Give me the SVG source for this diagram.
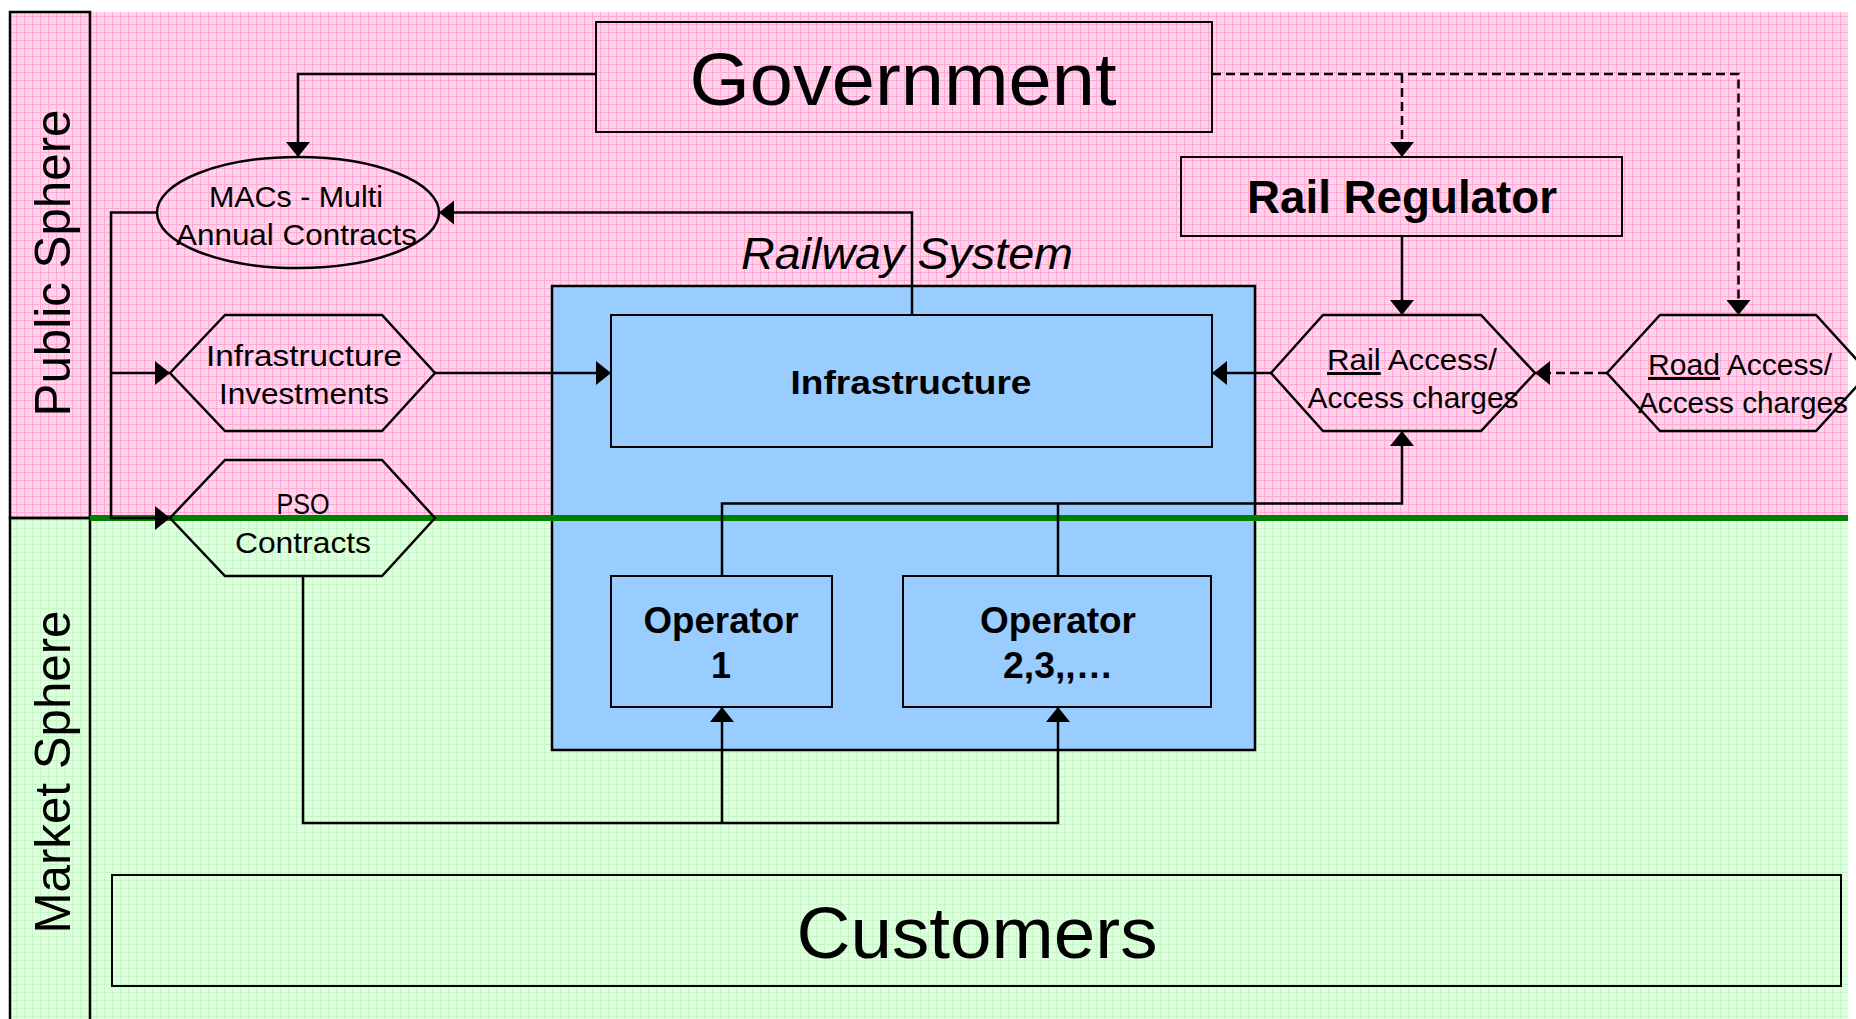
<svg xmlns="http://www.w3.org/2000/svg" width="1856" height="1019" viewBox="0 0 1856 1019">
  <style>
    .t { font-family: "Liberation Sans", Arial, sans-serif; fill: #000; text-anchor: middle; }
    .b { font-weight: bold; }
    .box { fill: none; stroke: #000; stroke-width: 2; }
    .blue { fill: #99CCFF; stroke: #000; stroke-width: 2.5; }
    .shape { fill: none; stroke: #000; stroke-width: 2.5; }
    .conn { fill: none; stroke: #000; stroke-width: 2.5; }
    .dash { stroke-dasharray: 9 5; }
    .lane { stroke: #000; stroke-width: 2.5; }
  </style>
  <defs>
    <pattern id="pinkGrid" width="8" height="8" patternUnits="userSpaceOnUse">
      <rect width="8" height="8" fill="#FFD4EA"/>
      <rect width="8" height="1" fill="#FFAAD6"/>
      <rect width="1" height="8" fill="#FFAAD6"/>
    </pattern>
    <pattern id="greenGrid" width="8" height="8" patternUnits="userSpaceOnUse">
      <rect width="8" height="8" fill="#DDFFDD"/>
      <rect width="8" height="1" fill="#C6F6C6"/>
      <rect width="1" height="8" fill="#C6F6C6"/>
    </pattern>
    <marker id="arrow" viewBox="0 0 15 24" refX="15" refY="12" markerWidth="15" markerHeight="24" markerUnits="userSpaceOnUse" orient="auto">
      <path d="M0,0 L15,12 L0,24 z" fill="#000"/>
    </marker>
  </defs>

  <rect width="1856" height="1019" fill="#FFFFFF"/>

  <!-- sphere backgrounds -->
  <g id="spheres">
    <rect x="10" y="12" width="1838" height="506" fill="url(#pinkGrid)"/>
    <rect x="10" y="518" width="1838" height="510" fill="url(#greenGrid)"/>
    <rect class="lane" x="10" y="12" width="80" height="506" fill="none"/>
    <rect class="lane" x="10" y="518" width="80" height="510" fill="none"/>
    <text class="t" font-size="50" textLength="307" lengthAdjust="spacingAndGlyphs" transform="translate(70,263) rotate(-90)">Public Sphere</text>
    <text class="t" font-size="50" textLength="323" lengthAdjust="spacingAndGlyphs" transform="translate(70,772) rotate(-90)">Market Sphere</text>
  </g>

  <!-- railway system container -->
  <g id="railway-system">
    <rect class="blue" x="552" y="286" width="703" height="464"/>
    <text class="t" font-size="44" font-style="italic" x="907" y="269" textLength="332" lengthAdjust="spacingAndGlyphs">Railway System</text>
  </g>

  <g id="infrastructure">
    <rect class="blue" x="611" y="315" width="601" height="132" style="stroke-width:2"/>
    <text class="t b" font-size="34" x="911" y="394" textLength="241" lengthAdjust="spacingAndGlyphs">Infrastructure</text>
  </g>

  <g id="operator-1">
    <rect class="blue" x="611" y="576" width="221" height="131" style="stroke-width:2"/>
    <text class="t b" font-size="36" x="721" y="633" textLength="155" lengthAdjust="spacingAndGlyphs">Operator</text>
    <text class="t b" font-size="36" x="721" y="678">1</text>
  </g>

  <g id="operator-2">
    <rect class="blue" x="903" y="576" width="308" height="131" style="stroke-width:2"/>
    <text class="t b" font-size="36" x="1058" y="633" textLength="156" lengthAdjust="spacingAndGlyphs">Operator</text>
    <text class="t b" font-size="36" x="1058" y="678" textLength="110" lengthAdjust="spacingAndGlyphs">2,3,,…</text>
  </g>

  <!-- sphere boundary -->
  <line x1="90" y1="518" x2="1848" y2="518" stroke="#008000" stroke-width="6"/>

  <g id="government">
    <rect class="box" x="596" y="22" width="616" height="110"/>
    <text class="t" font-size="74" x="903" y="105" textLength="427" lengthAdjust="spacingAndGlyphs">Government</text>
  </g>

  <g id="rail-regulator">
    <rect class="box" x="1181" y="157" width="441" height="79"/>
    <text class="t b" font-size="46" x="1402" y="213" textLength="310" lengthAdjust="spacingAndGlyphs">Rail Regulator</text>
  </g>

  <g id="macs">
    <ellipse class="shape" cx="298" cy="212.5" rx="141" ry="55.5"/>
    <text class="t" font-size="29" x="296" y="206.5" textLength="174" lengthAdjust="spacingAndGlyphs">MACs - Multi</text>
    <text class="t" font-size="29" x="296.5" y="244.5" textLength="241" lengthAdjust="spacingAndGlyphs">Annual Contracts</text>
  </g>

  <g id="infrastructure-investments">
    <polygon class="shape" points="170,373 225,315 382,315 435,373 382,431 225,431"/>
    <text class="t" font-size="30" x="304" y="366" textLength="196" lengthAdjust="spacingAndGlyphs">Infrastructure</text>
    <text class="t" font-size="30" x="304" y="404" textLength="170" lengthAdjust="spacingAndGlyphs">Investments</text>
  </g>

  <g id="pso-contracts">
    <polygon class="shape" points="170,518 225,460 382,460 435,518 382,576 225,576"/>
    <text class="t" font-size="30" x="303" y="514" textLength="53" lengthAdjust="spacingAndGlyphs">PSO</text>
    <text class="t" font-size="30" x="303" y="553" textLength="136" lengthAdjust="spacingAndGlyphs">Contracts</text>
  </g>

  <g id="rail-access">
    <polygon class="shape" points="1271,373 1323,315 1481,315 1535,373 1481,431 1323,431"/>
    <text class="t" font-size="30" x="1412" y="370" textLength="170" lengthAdjust="spacingAndGlyphs"><tspan style="text-decoration:underline">Rail</tspan> Access/</text>
    <text class="t" font-size="30" x="1413" y="408" textLength="211" lengthAdjust="spacingAndGlyphs">Access charges</text>
  </g>

  <g id="road-access">
    <polygon class="shape" points="1607,373 1660,315 1816,315 1869,373 1816,431 1660,431"/>
    <text class="t" font-size="30" x="1740" y="375" textLength="184" lengthAdjust="spacingAndGlyphs"><tspan style="text-decoration:underline">Road</tspan> Access/</text>
    <text class="t" font-size="30" x="1743" y="413" textLength="210" lengthAdjust="spacingAndGlyphs">Access charges</text>
  </g>

  <g id="customers">
    <rect class="box" x="112" y="875" width="1729" height="111"/>
    <text class="t" font-size="72" x="977" y="958" textLength="361" lengthAdjust="spacingAndGlyphs">Customers</text>
  </g>

  <!-- connectors -->
  <g id="connectors">
    <path class="conn" d="M596,74 H298 V157" marker-end="url(#arrow)"/>
    <path class="conn" d="M912,315 V212.5 H439" marker-end="url(#arrow)"/>
    <path class="conn" d="M157,212.5 H111 V518 H170" marker-end="url(#arrow)"/>
    <path class="conn" d="M111,373 H170" marker-end="url(#arrow)"/>
    <path class="conn" d="M435,373 H611" marker-end="url(#arrow)"/>
    <path class="conn" d="M303,576 V823 H1058 V707" marker-end="url(#arrow)"/>
    <path class="conn" d="M722,823 V707" marker-end="url(#arrow)"/>
    <path class="conn" d="M722,576 V503.5 H1402 V431" marker-end="url(#arrow)"/>
    <path class="conn" d="M1058,576 V503.5"/>
    <path class="conn" d="M1402,236 V315" marker-end="url(#arrow)"/>
    <path class="conn" d="M1271,373 H1212" marker-end="url(#arrow)"/>
    <path class="conn dash" d="M1212,74 H1738.5 V315" marker-end="url(#arrow)"/>
    <path class="conn dash" d="M1402,74 V157" marker-end="url(#arrow)"/>
    <path class="conn dash" d="M1607,373 H1535" marker-end="url(#arrow)"/>
  </g>
</svg>
